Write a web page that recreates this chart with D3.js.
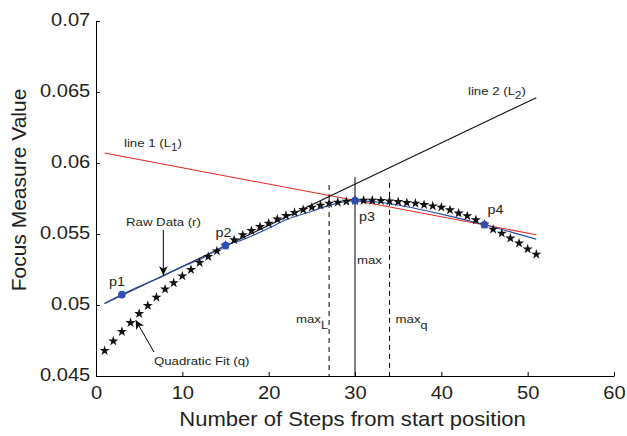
<!DOCTYPE html>
<html>
<head>
<script src="https://d3js.org/d3.v7.min.js"></script>
<style>
  body { margin: 0; background: #fff; }
  text { font-family: "Liberation Sans", Arial, sans-serif; fill: #231f20; }
</style>
</head>
<body>
<script>
// quadratic fit (stars), one per step
var quadSteps = [1,2,3,4,5,6,7,8,9,10,11,12,13,14,15,16,17,18,19,20,21,22,23,24,25,26,
                 27,28,29,30,31,32,33,34,35,36,37,38,39,40,41,42,43,44,45,46,47,48,49,50,51];
var quadValues = [0.04678,0.04746,0.04812,0.04875,0.04939,0.04995,0.05054,0.05111,0.05155,0.05204,
                  0.05249,0.05298,0.0534,0.0538,0.05419,0.05458,0.05493,0.05523,0.05551,0.05575,
                  0.05604,0.05629,0.0565,0.05671,0.05688,0.05702,0.05716,0.05723,0.05729,0.05734,
                  0.05737,0.05737,0.05734,0.05732,0.05727,0.0572,0.05716,0.05706,0.05697,0.05688,
                  0.05669,0.05646,0.05627,0.05599,0.05567,0.05533,0.05505,0.0547,0.05435,0.05394,0.05357];

// raw data curve (blue)
var rawSteps  = [1, 3, 5, 8, 10, 12, 15, 17, 20, 22, 25, 27, 30, 33, 36, 40, 45, 48, 51];
var rawValues = [0.0501,0.05073,0.0513,0.0521,0.0527,0.0532,0.05418,0.0546,0.0554,0.0560,
                 0.0566,0.05702,0.05735,0.05722,0.05692,0.0564,0.05565,0.05515,0.05463];

// fitted lines
var line1 = [[1, 0.0607], [51, 0.05495]];
var line2 = [[1, 0.0501], [51, 0.0646]];

// selected points p1..p4
var pointNames  = ["p1", "p2", "p3", "p4"];
var pointSteps  = [3, 15, 30, 45];
var pointValues = [0.05073, 0.05418, 0.05735, 0.05565];

// vertical markers
var maxL = 27, maxTrue = 30, maxQ = 34;

var xTicks = [0, 10, 20, 30, 40, 50, 60];
var yTicks = [0.045, 0.05, 0.055, 0.06, 0.065, 0.07];
var yTickLabels = ["0.045", "0.05", "0.055", "0.06", "0.065", "0.07"];

var margin = {top: 21, right: 13, bottom: 60, left: 96},
    width = 627 - margin.left - margin.right,
    height = 436 - margin.top - margin.bottom;

// small text in the original looks slightly wide
var sx = 1.15;

var x = d3.scaleLinear().domain([0, 60]).range([0, width]);
var y = d3.scaleLinear().domain([0.045, 0.07]).range([height, 0]);

var root = d3.select("body").append("svg")
    .attr("width", 627)
    .attr("height", 436);

root.append("defs").append("marker")
    .attr("id", "arrow")
    .attr("viewBox", "0 0 10 10")
    .attr("refX", 10).attr("refY", 5)
    .attr("markerWidth", 9).attr("markerHeight", 9)
    .attr("markerUnits", "userSpaceOnUse")
    .attr("orient", "auto")
  .append("path")
    .attr("d", "M0,0 L10,5 L0,10 L3,5 Z")
    .attr("fill", "#000");

var svg = root.append("g")
    .attr("transform", "translate(" + margin.left + "," + margin.top + ")");

// axes (ticks pointing inward)
var xAxis = svg.append("g")
    .attr("transform", "translate(0," + height + ")")
    .call(d3.axisBottom(x).tickValues(xTicks).tickSizeInner(-4).tickSizeOuter(0).tickPadding(11));
var yAxis = svg.append("g")
    .call(d3.axisLeft(y).tickValues(yTicks).tickFormat((d, i) => yTickLabels[i])
          .tickSizeInner(-4).tickSizeOuter(0).tickPadding(5));
[xAxis, yAxis].forEach(function(a) {
  a.selectAll("path, line").attr("stroke", "#000").attr("stroke-width", 1);
  a.selectAll("text")
      .style("font-size", "17.5px")
      .style("font-family", '"Liberation Sans", Arial, sans-serif')
      .attr("fill", "#231f20")
      .attr("transform", "scale(" + sx + ",1)");
});
yAxis.selectAll("text").attr("dy", "0.25em");

// vertical marker lines
svg.append("line")
    .attr("x1", x(maxL)).attr("x2", x(maxL))
    .attr("y1", y(0.05845)).attr("y2", height)
    .attr("stroke", "#000").attr("stroke-dasharray", "5,4");
svg.append("line")
    .attr("x1", x(maxQ)).attr("x2", x(maxQ))
    .attr("y1", y(0.0586)).attr("y2", height)
    .attr("stroke", "#000").attr("stroke-dasharray", "5,4");
svg.append("line")
    .attr("x1", x(maxTrue)).attr("x2", x(maxTrue))
    .attr("y1", y(0.059)).attr("y2", height)
    .attr("stroke", "#000");

var lineGen = d3.line().x(d => x(d[0])).y(d => y(d[1]));

// line 1 (red) and line 2 (black)
svg.append("path").datum(line1).attr("d", lineGen)
    .attr("stroke", "#e8261f").attr("fill", "none").attr("stroke-width", 1.1);
svg.append("path").datum(line2).attr("d", lineGen)
    .attr("stroke", "#111").attr("fill", "none").attr("stroke-width", 1.1);

// raw data
svg.append("path").datum(rawSteps.map((s, i) => [s, rawValues[i]]))
    .attr("d", lineGen.curve(d3.curveMonotoneX))
    .attr("stroke", "#2f4fb0").attr("fill", "none").attr("stroke-width", 1.2);

// quadratic fit stars
svg.selectAll(".star").data(quadSteps)
  .enter().append("path")
    .attr("class", "star")
    .attr("transform", (d, i) => "translate(" + x(d) + "," + y(quadValues[i]) + ")")
    .attr("d", d3.symbol().type(d3.symbolStar).size(32))
    .attr("fill", "#111");

// points
svg.selectAll(".pt").data(pointSteps)
  .enter().append("circle")
    .attr("cx", d => x(d))
    .attr("cy", (d, i) => y(pointValues[i]))
    .attr("r", 3.8)
    .attr("fill", "#2f4fb0");

function label(tx, ty, size, stretch) {
  return svg.append("text")
      .attr("transform", "translate(" + tx + "," + ty + ") scale(" + (stretch || sx) + ",1)")
      .style("font-size", size + "px");
}

var labelOffsets = [[-13, -9], [-10, -9], [4, 20], [3, -11]];
pointNames.forEach(function(n, i) {
  label(x(pointSteps[i]) + labelOffsets[i][0], y(pointValues[i]) + labelOffsets[i][1], 12.5).text(n);
});

var l1 = label(28, 126, 11.5);
l1.append("tspan").text("line 1 (L");
l1.append("tspan").attr("dy", 4).style("font-size", "10px").text("1");
l1.append("tspan").attr("dy", -4).text(")");

var l2 = label(372, 74, 11.5);
l2.append("tspan").text("line 2 (L");
l2.append("tspan").attr("dy", 4).style("font-size", "10px").text("2");
l2.append("tspan").attr("dy", -4).text(")");

var mL = label(200, 302, 11.5);
mL.append("tspan").text("max");
mL.append("tspan").attr("dy", 6).style("font-size", "11px").text("L");

var mQ = label(x(maxQ) + 6, 302, 11.5);
mQ.append("tspan").text("max");
mQ.append("tspan").attr("dy", 6).style("font-size", "11px").text("q");

label(x(maxTrue) + 2, 243, 11.5).text("max");

// raw data annotation
label(30, 205, 11.5).text("Raw Data (r)");
svg.append("line")
    .attr("x1", x(7.8)).attr("y1", 209)
    .attr("x2", x(7.8)).attr("y2", y(0.05211))
    .attr("stroke", "#000").attr("marker-end", "url(#arrow)");

// quadratic fit annotation
label(58, 344, 11.5).text("Quadratic Fit (q)");
svg.append("line")
    .attr("x1", 58).attr("y1", 331)
    .attr("x2", x(4.6)).attr("y2", y(0.04893))
    .attr("stroke", "#000").attr("marker-end", "url(#arrow)");

// axis titles
label(256.5, height + 50, 21, 1.05)
    .attr("text-anchor", "middle")
    .text("Number of Steps from start position");
svg.append("text")
    .attr("transform", "translate(-70," + (height / 2 - 8.5) + ") rotate(-90)")
    .attr("text-anchor", "middle")
    .style("font-size", "21px")
    .text("Focus Measure Value");
</script>
</body>
</html>
